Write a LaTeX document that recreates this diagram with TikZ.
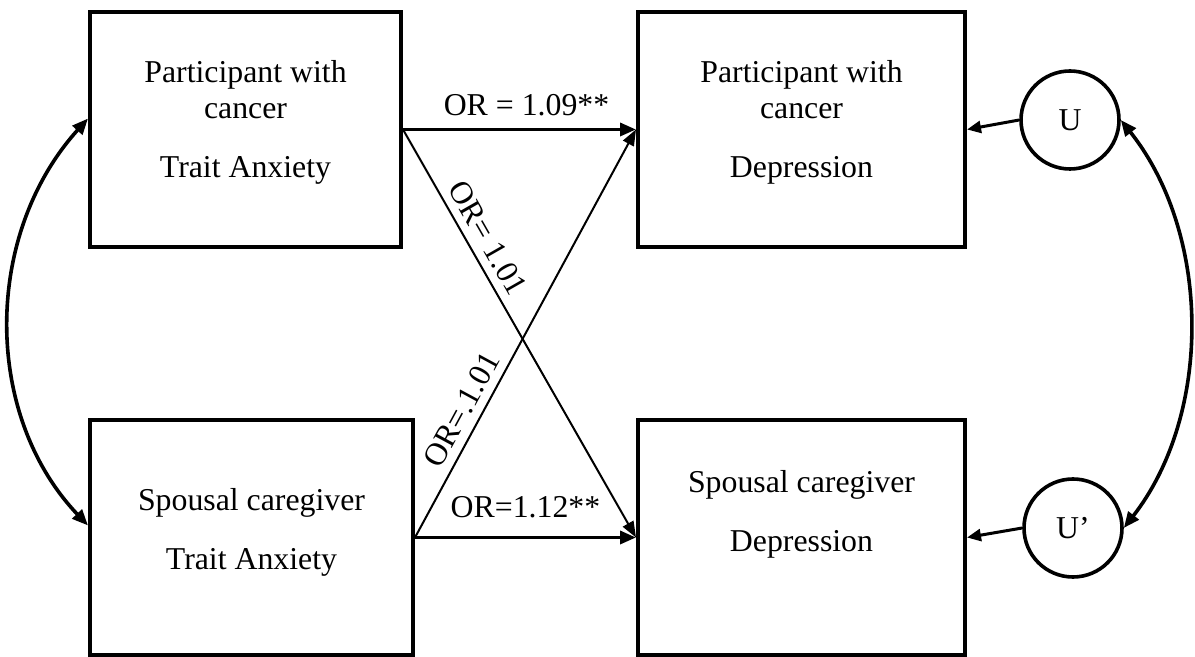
\documentclass[tikz,border=0pt]{standalone}
\usepackage{fontspec}
\setmainfont{Liberation Serif}
\usetikzlibrary{arrows.meta}
\begin{document}
\begin{tikzpicture}[x=0.5pt,y=-0.5pt,
  font=\fontsize{15.9}{18}\selectfont,
  box/.style={draw,line width=2pt,minimum height=117.5pt,inner sep=0pt},
  txt/.style={align=center,inner sep=0pt,anchor=north},
  lat/.style={draw,circle,line width=1.8pt,minimum size=49pt,inner sep=0pt},
  harrow/.style={line width=1.7pt,-{Triangle[length=8pt,width=6.5pt]}},
  darrow/.style={line width=1pt,-{Triangle[length=8pt,width=6pt]}},
  uarrow/.style={line width=1.5pt,-{Triangle[length=7pt,width=6pt]}},
  cov/.style={line width=1.8pt,{Triangle[length=8pt,width=6.5pt]}-{Triangle[length=8pt,width=6.5pt]}},
  lbl/.style={inner sep=0pt}]
\useasboundingbox (0,0) rectangle (1195,657);

% boxes
\node[box,minimum width=155.5pt] (tl) at (245.5,129.5) {};
\node[box,minimum width=163.5pt] (tr) at (801.5,129.5) {};
\node[box,minimum width=161.5pt] (bl) at (251.5,537.5) {};
\node[box,minimum width=163.5pt] (br) at (801.5,537.5) {};

% box texts
\node[txt] (tlt) at (245.5,60.3) {Participant with\\cancer\\[11.25pt]Trait Anxiety};
\node[txt] (trt) at (801.5,60.3) {Participant with\\cancer\\[11.25pt]Depression};
\node[txt] (blt) at (251.5,488.3) {Spousal caregiver\\[11.25pt]Trait Anxiety};
\node[txt] (brt) at (801.5,470.3) {Spousal caregiver\\[11.25pt]Depression};

% latent variables
\node[lat] (u) at (1070,120) {U};
\node[lat] (u2) at (1073,528) {U’};

% paths
\draw[harrow] (tl.east) -- node[lbl,pos=0.53,above=6pt] (l1) {OR = 1.09**} (tr.west);
\draw[harrow] (bl.east) -- node[lbl,pos=0.5,above=8.75pt] (l2) {OR=1.12**} (br.west);
\draw[darrow] (tl.east) -- node[lbl,pos=0.29,sloped,above=4pt] (l3) {OR= 1.01} (br.west);
\draw[darrow] (bl.east) -- node[lbl,pos=0.29,sloped,above=4pt] (l4) {OR=.1.01} (tr.west);

\draw[uarrow] (u.west) -- (tr.east);
\draw[uarrow] (u2.west) -- (br.east);

% covariances
\draw[cov] ([yshift=5.5pt]tl.west) .. controls (-17,235) and (-17,415) .. ([yshift=6pt]bl.west);
\draw[cov] (u.east) .. controls (1212,235) and (1212,415) .. (u2.east);
\end{tikzpicture}
\end{document}
